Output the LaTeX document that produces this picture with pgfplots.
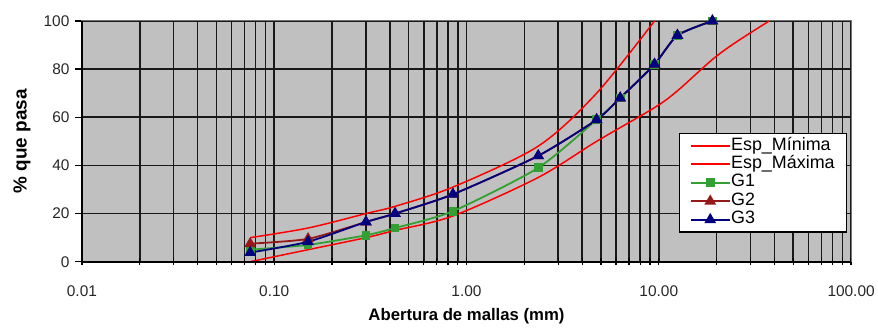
\documentclass[border=0pt]{standalone}
\usepackage{pgfplots}
\usepackage{pgfplotstable}
\pgfplotsset{compat=1.18}
\usepackage{fontspec}
\setmainfont{Liberation Sans}
\definecolor{plotgray}{RGB}{192,192,192}
\definecolor{gone}{RGB}{51,160,51}
\definecolor{gtwo}{RGB}{150,25,25}
\definecolor{gthree}{RGB}{0,0,128}
\pgfplotsset{
  legend image code/.code={\draw[mark repeat=2,mark phase=2,#1] plot coordinates {(0bp,0bp) (19bp,0bp) (38bp,0bp)};},
}

\pgfplotstableread{
x y
0.075 0
0.15 5
0.3 10
0.425 13
0.85 19
2.36 35
4.75 50
9.5 64
12.5 71
19 84
25 91
37.5 100
}\espmin
\pgfplotstableread{
x y
0.075 10
0.15 14
0.3 20
0.425 23
0.85 31
2.36 48
4.75 70
9.5 100
}\espmax
\pgfplotstableread{
x y
0.075 5
0.15 7
0.3 11
0.425 14
0.85 21
2.36 39
4.75 59
6.3 68
9.5 82
12.5 94
19 100
}\gA
\pgfplotstableread{
x y
0.075 7.5
0.15 9.5
0.3 16.5
0.425 20
0.85 28
2.36 44
4.75 59
6.3 68
9.5 82
12.5 94
19 100
}\gB
\pgfplotstableread{
x y
0.075 3.8
0.15 8.3
0.3 16.5
0.425 20
0.85 28
2.36 44
4.75 59
6.3 68
9.5 82
12.5 94
19 100
}\gC

\begin{document}
\begin{tikzpicture}
\begin{axis}[
  xmode=log,
  scale only axis,
  width=770bp, height=241bp,
  xmin=0.01, xmax=100, ymin=0, ymax=100,
  clip=false,
  axis background/.style={fill=plotgray},
  axis line style={draw=black!55, line width=1bp},
  xtick={0.01,0.1,1,10,100},
  xticklabels={0.01,0.10,1.00,10.00,100.00},
  ytick={0,20,40,60,80,100},
  xtick pos=bottom, ytick pos=left,
  xtick align=center, ytick align=outside,
  major tick length=7bp, minor tick length=7bp,
  every tick/.style={black, line width=1.3bp},
  grid=both,
  major grid style={black!90, line width=1.6bp},
  minor grid style={black!90, line width=1.6bp},
  /pgf/number format/assume math mode=true,
  tick label style={font=\fontsize{15.5}{17}\selectfont, text=black!85},
  xticklabel style={yshift=-17bp},
  yticklabel style={xshift=-2bp},
  xlabel={\bfseries Abertura de mallas (mm)},
  ylabel={\bfseries \% que pasa},
  xlabel style={at={(axis description cs:0.5,-0.228)}, anchor=center, font=\fontsize{16.8}{19}\selectfont},
  ylabel style={at={(axis description cs:-0.078,0.5)}, anchor=center, rotate=0, font=\fontsize{19}{21}\selectfont},
  legend style={at={(0.995,0.535)}, anchor=north east, draw=black, line width=1.2bp, fill=white,
    font=\fontsize{18}{19}\selectfont, cells={anchor=west},
    nodes={inner sep=1bp, text height=12.5bp, text depth=4bp},
    inner xsep=11bp, inner ysep=3bp},
]
\addplot[red, line width=1.5bp, smooth, tension=0.5] table[x=x,y=y] {\espmin};
\addlegendentry{Esp\_Mínima}
\addplot[red, line width=1.5bp, smooth, tension=0.5] table[x=x,y=y] {\espmax};
\addlegendentry{Esp\_Máxima}
\addplot[gone, line width=1.8bp, smooth, tension=0.4, mark=square*, mark size=3.5bp, mark options={solid}] table[x=x,y=y] {\gA};
\addlegendentry{G1}
\addplot[gtwo, line width=1.8bp, smooth, tension=0.4, mark=triangle*, mark size=5bp, mark options={solid}] table[x=x,y=y] {\gB};
\addlegendentry{G2}
\addplot[gthree, line width=1.8bp, smooth, tension=0.4, mark=triangle*, mark size=5bp, mark options={solid}] table[x=x,y=y] {\gC};
\addlegendentry{G3}
\draw[black, line width=1.6bp] (rel axis cs:0,1) -- (rel axis cs:0,0) -- (rel axis cs:1,0);
\coordinate (BL) at (rel axis cs:0,0);
\coordinate (TR) at (rel axis cs:1,1);
\end{axis}
\path ([shift={(-82bp,-61bp)}]BL) rectangle ([shift={(26bp,21bp)}]TR);
\end{tikzpicture}
\end{document}
